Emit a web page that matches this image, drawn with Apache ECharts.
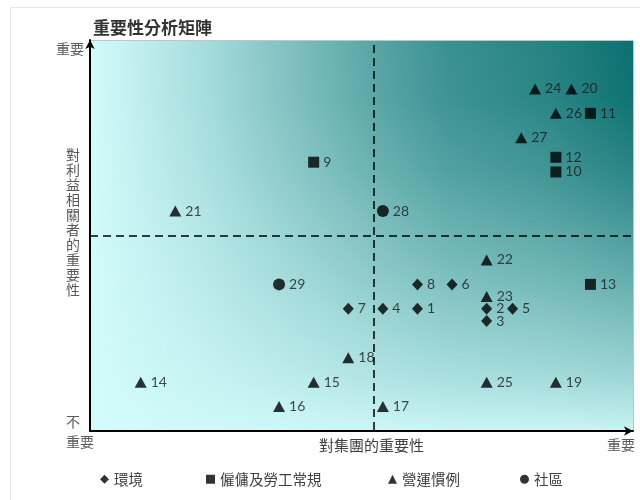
<!DOCTYPE html>
<html>
<head>
<meta charset="utf-8">
<script src="https://cdn.jsdelivr.net/npm/echarts@6/dist/echarts.min.js"></script>
<style>html,body{margin:0;padding:0;background:#fff}#c{width:640px;height:500px}</style>
</head>
<body>
<div id="c"></div>
<script>
// ---- data ----
const seriesNames = ['環境', '僱傭及勞工常規', '營運慣例', '社區'];
const envIds = ['1','2','3','4','5','6','7','8'];
const envX   = [8, 10, 10, 7, 10.75, 9, 6, 8];
const envY   = [5, 5, 4.5, 5, 5, 6, 5, 6];
const laborIds = ['9','10','11','12','13'];
const laborX   = [5, 12, 13, 12, 13];
const laborY   = [11, 10.6, 13, 11.2, 6];
const opsIds = ['14','15','16','17','18','19','20','21','22','23','24','25','26','27'];
const opsX   = [0, 5, 4, 7, 6, 12, 12.45, 1, 10, 10, 11.4, 10, 12, 11];
const opsY   = [2, 2, 1, 1, 3, 2, 14, 9, 7, 5.5, 14, 2, 13, 12];
const commIds = ['28','29'];
const commX   = [7, 4];
const commY   = [9, 6];
const xMid = 6.75, yMid = 8;
const xMin = -1.465, xMax = 14.23, yMin = 0, yMax = 16;

const CJK = '"Noto Sans CJK TC", "Noto Sans", sans-serif';
const NUM = 'Lato, "Open Sans", sans-serif';

function pts(ids, xs, ys) { return ids.map((id, i) => ({ name: id, value: [xs[i], ys[i]] })); }

function mkSeries(name, ids, xs, ys, symbol, size) {
  return {
    name: name, type: 'scatter', symbol: symbol, symbolSize: size,
    itemStyle: { color: '#000' }, z: 3,
    data: pts(ids, xs, ys),
    label: { show: true, position: 'right', distance: 4, formatter: p => p.name,
             fontFamily: NUM, fontSize: 14, color: '#1a1a1a' },
    emphasis: { disabled: true }
  };
}

const G = { left: 90, top: 40, width: 543, height: 391 };

const chart = echarts.init(document.getElementById('c'), null, { renderer: 'canvas' });
const series = [
  mkSeries(seriesNames[0], envIds, envX, envY, 'diamond', [11, 12]),
  mkSeries(seriesNames[1], laborIds, laborX, laborY, 'rect', 11),
  mkSeries(seriesNames[2], opsIds, opsX, opsY, 'triangle', [12, 11]),
  mkSeries(seriesNames[3], commIds, commX, commY, 'circle', 12)
];
series[0].markLine = {
  silent: true, symbol: 'none', label: { show: false },
  lineStyle: { color: '#000', type: [8, 5], width: 1.5 },
  data: [
    [{ coord: [xMid, 15.8] }, { coord: [xMid, yMin] }],
    [{ coord: [xMin, yMid] }, { coord: [xMax, yMid] }]
  ]
};

function legendAt(name, left) {
  return { data: [name], left: left, top: 472, padding: 0, itemWidth: 9, itemHeight: 9, itemGap: 5,
           textStyle: { fontFamily: CJK, fontSize: 14.5, color: '#404040' } };
}

chart.setOption({
  animation: false,
  backgroundColor: '#fff',
  title: { text: '重要性分析矩陣', left: 88, top: 14,
           textStyle: { fontFamily: CJK, fontSize: 17, fontWeight: 'bold', color: '#333' } },
  grid: { left: G.left, top: G.top, width: G.width, height: G.height, show: false },
  legend: [legendAt(seriesNames[0], 100), legendAt(seriesNames[1], 206),
           legendAt(seriesNames[2], 388), legendAt(seriesNames[3], 520)],
  xAxis: { type: 'value', min: xMin, max: xMax, z: 5,
           axisLine: { show: true, onZero: false, symbol: ['none', 'arrow'], symbolSize: [7, 9],
                       lineStyle: { color: '#000', width: 2 } },
           axisTick: { show: false }, axisLabel: { show: false }, splitLine: { show: false } },
  yAxis: { type: 'value', min: yMin, max: yMax, z: 5,
           axisLine: { show: true, onZero: false, symbol: ['none', 'arrow'], symbolSize: [7, 9],
                       lineStyle: { color: '#000', width: 2 } },
           axisTick: { show: false }, axisLabel: { show: false }, splitLine: { show: false } },
  graphic: [
    { type: 'rect', silent: true, z: -10, shape: { x: 10.5, y: 7.5, width: 640, height: 500 },
      style: { fill: 'none', stroke: '#e6e6e6', lineWidth: 1 } },
    { type: 'rect', silent: true, z: 0, shape: { x: G.left, y: G.top, width: G.width, height: G.height },
      style: { fill: { type: 'linear', x: 0, y: 0, x2: 1, y2: 0, colorStops: [
        { offset: 0, color: '#d2fbfb' }, { offset: 0.2, color: '#a9dede' },
        { offset: 0.39, color: '#7abdbd' }, { offset: 0.52, color: '#5aa6a6' },
        { offset: 0.66, color: '#3b9191' }, { offset: 0.85, color: '#268282' },
        { offset: 1, color: '#0c7070' } ] } } },
    { type: 'rect', silent: true, z: 1, shape: { x: G.left, y: G.top, width: G.width, height: G.height },
      style: { fill: { type: 'linear', x: 0, y: 0, x2: 0, y2: 1, colorStops: [
        { offset: 0, color: 'rgba(210,251,251,0)' }, { offset: 0.15, color: 'rgba(210,251,251,0.02)' },
        { offset: 0.33, color: 'rgba(210,251,251,0.15)' }, { offset: 0.6, color: 'rgba(210,251,251,0.43)' },
        { offset: 0.87, color: 'rgba(210,251,251,0.74)' }, { offset: 1, color: 'rgba(210,251,251,0.95)' } ] } } },
    { type: 'polyline', silent: true, z: 2,
      shape: { points: [[G.left, G.top + 0.5], [G.left + G.width + 0.5, G.top + 0.5], [G.left + G.width + 0.5, G.top + G.height]] },
      style: { stroke: '#c4c4c4', lineWidth: 1, fill: 'none' } },
    { type: 'text', silent: true, z: 6, x: 84, y: 49,
      style: { text: '重要', fontFamily: CJK, fontSize: 14, fill: '#595959', textAlign: 'right', textVerticalAlign: 'middle' } },
    { type: 'text', silent: true, z: 6, x: 73, y: 147,
      style: { text: '對\n利\n益\n相\n關\n者\n的\n重\n要\n性', fontFamily: CJK, fontSize: 14, lineHeight: 15,
               fill: '#595959', textAlign: 'center', textVerticalAlign: 'top' } },
    { type: 'text', silent: true, z: 6, x: 66, y: 412,
      style: { text: '不\n重要', fontFamily: CJK, fontSize: 14, lineHeight: 20, fill: '#595959',
               textAlign: 'left', textVerticalAlign: 'top' } },
    { type: 'text', silent: true, z: 6, x: 371.5, y: 445,
      style: { text: '對集團的重要性', fontFamily: CJK, fontSize: 15, fill: '#404040',
               textAlign: 'center', textVerticalAlign: 'middle' } },
    { type: 'text', silent: true, z: 6, x: 621, y: 445,
      style: { text: '重要', fontFamily: CJK, fontSize: 14, fill: '#595959',
               textAlign: 'center', textVerticalAlign: 'middle' } }
  ],
  series: series
});
</script>
</body>
</html>
